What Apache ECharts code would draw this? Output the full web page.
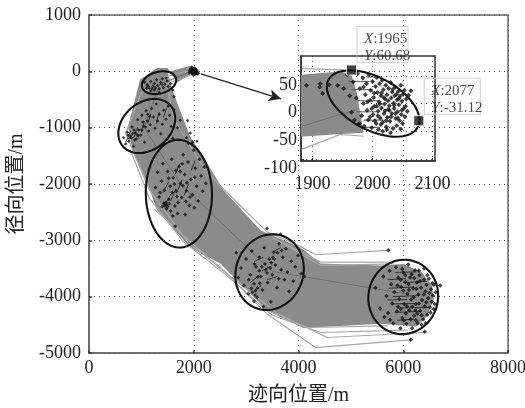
<!DOCTYPE html>
<html><head><meta charset="utf-8">
<script src="https://cdn.jsdelivr.net/npm/echarts@6/dist/echarts.min.js"></script>
<style>html,body{margin:0;padding:0;background:#fff}#c{width:525px;height:408px;filter:blur(0.45px)}</style>
</head><body><div id="c"></div>
<script>
const insetXTicks=[1900,2000,2100];
const insetYTicks=[50,0,-50,-100];
const xTitle='迹向位置/m';
const yTitle='径向位置/m';

const bandEdge=[[1971,110],[1500,-10],[1608,-375],[1933,-1160],[2182,-1518],[2565,-2107],[3273,-2821],[4038,-3125],[4421,-3411],[5569,-3446],[6000,-3420],[6350,-3560],[6550,-3800],[6580,-4050],[6450,-4350],[6250,-4530],[5569,-4482],[4096,-4554],[3407,-4250],[2507,-3411],[1933,-3125],[1301,-2464],[1110,-1982],[823,-1393],[746,-982],[976,-143],[1300,60],[1500,60],[1678,-202],[1933,-53]];
const trackCenter=[[1965,0],[1350,-230],[1050,-1000],[1750,-2000],[3500,-3550],[6050,-3950]];
const trackA=[[1965,20],[1450,-100],[1620,-850],[2250,-1800],[3400,-2850],[4038,-3107],[4325,-3256],[5716,-3178]];
const trackB=[[3500,-2950],[4421,-3387],[5697,-3387]];
const trackC=[[3600,-3000],[4421,-3446],[5825,-3417]];
const trackD=[[1965,-60],[1000,-380],[700,-1100],[1150,-2100],[1900,-3050],[2507,-3476],[3400,-4309],[4325,-4904],[6144,-4767]];
const trackE=[[1250,-2450],[2507,-3500],[3600,-4300],[4549,-4725],[6399,-4636]];
const trackF=[[2600,-3600],[3500,-4330],[4421,-4636],[6080,-4595]];
const trackG=[[3300,-4200],[4166,-4547],[5697,-4517]];
const trackH=[[790,-1400],[1150,-2250],[1800,-3020],[2650,-3640]];

const ellipse1={c:[1337,-202],a:[328,48],b:[0,197]};
const ellipse2={c:[1103,-970],a:[543,130],b:[0,463]};
const ellipse3={c:[1716,-2171],a:[632,-20],b:[0,957]};
const ellipse4={c:[3448,-3565],a:[654,60],b:[0,670]};
const ellipse5={c:[6000,-4005],a:[667,20],b:[0,660]};
const insetEllipse={c:[2001,0],a:[77,-30],b:[0,52]};

const dotsTip=[[1950,40],[1970,60],[1990,20],[2010,50],[2040,-10],[2060,-30],[1985,-30],[2020,-45],[1960,-10],[2005,5],[2035,25],[1935,15],[2050,10],[1995,-55],[2075,-35],[1925,-20]];
const dots1=[[1060,-190],[1110,-240],[1150,-300],[1180,-180],[1220,-265],[1250,-330],[1290,-150],[1310,-250],[1340,-310],[1370,-200],[1400,-130],[1420,-290],[1450,-230],[1490,-170],[1510,-270],[1180,-350],[1250,-215],[1340,-370],[1560,-215],[1600,-330],[1620,-445],[1100,-300],[1130,-270],[1205,-310],[1270,-290],[1395,-240],[1470,-120]];
const dots2=[[660,-1180],[700,-1290],[730,-1080],[760,-1240],[790,-1150],[820,-990],[850,-1330],[880,-1090],[905,-1200],[930,-860],[950,-1040],[985,-1130],[1010,-780],[1040,-970],[1060,-1260],[1090,-700],[1110,-880],[1140,-1060],[1170,-950],[1195,-660],[1230,-810],[1260,-1010],[1285,-580],[1310,-880],[1340,-760],[1370,-1110],[1400,-940],[1430,-690],[1470,-850],[1510,-620],[1540,-780],[1570,-980],[1600,-1190],[1742,-868],[1882,-874],[1933,-1094],[2061,-1243],[1690,-1000],[1860,-1180],[1620,-680],[745,-1130],[770,-1190],[810,-1180],[830,-1110],[860,-1040],[870,-1220],[915,-1120],[940,-1150],[1010,-1040],[1030,-900],[1080,-990],[1160,-800],[1120,-760]];
const dots3=[[1270,-2060],[1310,-1790],[1340,-2230],[1385,-1950],[1410,-1640],[1440,-2110],[1474,-2374],[1500,-1780],[1525,-2270],[1550,-2040],[1580,-1560],[1610,-1890],[1640,-2390],[1646,-2749],[1670,-2130],[1691,-2522],[1720,-1690],[1745,-1990],[1770,-2240],[1800,-1480],[1825,-1830],[1837,-2540],[1860,-2120],[1890,-1610],[1915,-2380],[1945,-1920],[1975,-2190],[2000,-1400],[2030,-1720],[2055,-2040],[2085,-2300],[2110,-1560],[2140,-1860],[2170,-2130],[2200,-1700],[2230,-1990],[1980,-1260],[1900,-1280],[1400,-2400],[1480,-2440],[1360,-2150],[1560,-2480],[1700,-2330],[1630,-2000],[1740,-1780],[1850,-2310],[1520,-1900],[2010,-2420],[1600,-2570],[1430,-2340],[1450,-2380],[1500,-2400],[1530,-2350],[1470,-2330],[1590,-2150],[1660,-1760],[1790,-2030],[1870,-1980],[1930,-2230],[2020,-1880],[1780,-1640],[1680,-2220]];
const dots4=[[2813,-3220],[2850,-3660],[2900,-3490],[2960,-3800],[3000,-3330],[3040,-3950],[3080,-3610],[3110,-3190],[3150,-3770],[3190,-3470],[3210,-4010],[3250,-3300],[3280,-3640],[3310,-3880],[3345,-3130],[3375,-3520],[3400,-2792],[3410,-3750],[3440,-3330],[3470,-4090],[3500,-3610],[3530,-3210],[3560,-3440],[3590,-3840],[3630,-3060],[3655,-2893],[3670,-3520],[3700,-3300],[3730,-3700],[3760,-3150],[3790,-3560],[3820,-3910],[3860,-3370],[3900,-3720],[3940,-3470],[3990,-3270],[4050,-3590],[4110,-3640],[3170,-3970],[3100,-3850],[3360,-3420],[3460,-3490],[3260,-3760],[3150,-4080],[3050,-3700],[3330,-4180],[3540,-3330],[3620,-3680],[3250,-3540],[3400,-3580],[3120,-3920],[3180,-3890],[3220,-3840],[3160,-3420],[3300,-3470],[3480,-3400],[3510,-3300],[3600,-3220],[3680,-3180],[3220,-3650]];
const dots5=[[5470,-3840],[5560,-4210],[5620,-3640],[5680,-3990],[5710,-4290],[5740,-3540],[5770,-3780],[5790,-4120],[5810,-4470],[5830,-3920],[5860,-3480],[5880,-4260],[5905,-3660],[5925,-4040],[5945,-4560],[5960,-3830],[5985,-4380],[6005,-3570],[6020,-4130],[6040,-3740],[6060,-4480],[6080,-3950],[6095,-3430],[6115,-4240],[6130,-3660],[6150,-4050],[6170,-4560],[6190,-3850],[6205,-4340],[6225,-3530],[6240,-4130],[6260,-3750],[6275,-4470],[6290,-3960],[6310,-3620],[6325,-4250],[6340,-3840],[6360,-4060],[6380,-4400],[6395,-3700],[6410,-4170],[6425,-3910],[6445,-3790],[6460,-4320],[6475,-4030],[6490,-3680],[6510,-4190],[6530,-3870],[6545,-4090],[6565,-3980],[6585,-3790],[6600,-4130],[6620,-3920],[6705,-3803],[5716,-3178],[6144,-4767],[6412,-4624],[5640,-4360],[5900,-4180],[6100,-3780],[6000,-3890],[6200,-4010],[6300,-4120],[6400,-3500],[6050,-4300],[5750,-4410],[6240,-4420],[5950,-3700],[6160,-3600],[6350,-4500],[5890,-3800],[5950,-4220],[6010,-4420],[6070,-4170],[6110,-3880],[6170,-4180],[6250,-3860],[6270,-4300],[6320,-3720],[6350,-4330],[6390,-3960],[6440,-4100],[6460,-3620],[6500,-3940],[6520,-4280],[6560,-3760],[6580,-4220],[6230,-4240],[6140,-4400],[6040,-3620],[5980,-3510],[6300,-3540],[6430,-4470],[6210,-3670]];

const streaks2=[[700,-1260],[800,-1050],null,[850,-1180],[930,-990],null,[1000,-1080],[1060,-880],null,[1120,-920],[1180,-760],null,[1280,-930],[1340,-720],null,[1420,-820],[1480,-660]];
const streaks3=[[1420,-2150],[1520,-1960],null,[1560,-2300],[1660,-2080],null,[1650,-1820],[1730,-1640],null,[1820,-2200],[1900,-2000],null,[1950,-1760],[2030,-1580],null,[1700,-2100],[1780,-1920],null,[1480,-2320],[1560,-2180]];
const streaks4=[[3080,-3750],[3250,-3620],null,[3150,-3380],[3330,-3300],null,[3300,-3540],[3500,-3450],null,[3400,-3700],[3600,-3640],null,[3500,-3210],[3660,-3130],null,[3150,-3900],[3290,-3800]];
const streaks5=[[5700,-3700],[6050,-3680],null,[5720,-3850],[6200,-3830],null,[5800,-4000],[6300,-3980],null,[5760,-4130],[6250,-4120],null,[5830,-4280],[6350,-4260],null,[5880,-4420],[6200,-4400],null,[5850,-3570],[6250,-3560],null,[6000,-3750],[6450,-3730],null,[5950,-4200],[6480,-4190],null,[5700,-4060],[6080,-4050]];

const insetBand=[[1881,52],[1946,58],[1965,52],[1974,19],[1985,-53],[1935,-56],[1881,-60]];
const insetTrackTop=[[1882,63],[1951,61]];
const insetTrackBottom=[[1882,-83],[1946,-56],[1985,-59]];
const insetTrackMid=[[1882,-41],[1974,-11]];
const insetStreaks=[[1960,40],[1995,40],null,[1965,25],[2000,25],null,[1975,5],[2010,5],null,[1975,-15],[2005,-15],null,[1985,-30],[2020,-30],null,[1990,48],[2012,48],null,[1985,-43],[2010,-43]];
const insetDots=[[1890,33],[1912,30],[1913,36],[1917,18],[1928,34],[1942,33],[1952,27],[1958,52],[1962,14],[1965,-16],[1968,39],[1970,-30],[1973,10],[1975,54],[1977,-38],[1979,27],[1982,-22],[1984,46],[1985,0],[1986,-41],[1988,16],[1990,36],[1991,-12],[1993,-30],[1994,52],[1996,6],[1997,24],[1999,-44],[2000,40],[2001,-20],[2002,11],[2003,-5],[2005,31],[2006,-36],[2007,47],[2008,20],[2009,-14],[2010,-47],[2011,3],[2012,36],[2013,-26],[2014,14],[2015,-8],[2016,42],[2017,-34],[2018,25],[2019,-18],[2020,-1],[2021,8],[2022,33],[2023,-42],[2024,16],[2025,-25],[2026,-11],[2027,27],[2028,-4],[2029,-32],[2030,38],[2031,10],[2032,-18],[2033,21],[2034,-45],[2035,1],[2036,-9],[2037,14],[2038,30],[2039,-27],[2040,-40],[2041,7],[2042,-15],[2043,22],[2044,-2],[2045,-31],[2046,13],[2047,33],[2048,-20],[2049,4],[2050,-36],[2051,17],[2052,-9],[2053,24],[2054,-24],[2055,-5],[2056,8],[2058,-14],[2060,15],[2030,-53],[2017,-50],[1978,-36],[2064,23],[2047,-46],[2004,-31],[1996,-24],[2012,-1],[1985,30],[2024,-47],[2015,19],[2021,-13],[2026,5],[2031,-24],[2036,-3],[2040,17],[2044,9],[2019,11],[2009,-22],[2003,19],[2034,26],[2028,-12],[2023,-31],[2014,-38],[2038,-18],[2049,-12],[2042,-26],[2007,-5],[1999,-9],[1992,3]];
const insetMarks=[[1965,60.68],[2077,-31.12]];

const serif='"Liberation Serif","Noto Sans CJK SC",serif';
const gridLine={show:true,lineStyle:{color:'#555',type:[1,4],width:1}};
const axisBase={axisLine:{show:true,onZero:false,lineStyle:{color:'#666',width:1.5}},axisTick:{show:true,inside:true,length:3,lineStyle:{color:'#333',width:1.5}},splitLine:gridLine};
const lineS=(data,color,width,xi,z)=>({type:'line',data,xAxisIndex:xi,yAxisIndex:xi,showSymbol:false,symbol:'none',lineStyle:{color,width},z,silent:true,animation:false,connectNulls:false});
const dots=(data,xi,size)=>({type:'scatter',data,xAxisIndex:xi,yAxisIndex:xi,symbol:'diamond',symbolSize:size,itemStyle:{color:'#111'},z:5,silent:true,animation:false});
const poly=(edge,xi)=>({type:'custom',coordinateSystem:'cartesian2d',xAxisIndex:xi,yAxisIndex:xi,data:edge,encode:{x:0,y:1},z:3,silent:true,animation:false,clip:false,
  renderItem:(p,api)=>p.dataIndex===0?{type:'polygon',shape:{points:edge.map(e=>api.coord(e))},style:{fill:'#8b8b8b'}}:null});
const ell=(e,xi)=>({type:'custom',coordinateSystem:'cartesian2d',xAxisIndex:xi,yAxisIndex:xi,data:[e.c],encode:{x:0,y:1},z:6,silent:true,animation:false,clip:false,
  renderItem:(p,api)=>{const C=api.coord(e.c),A=api.coord([e.c[0]+e.a[0],e.c[1]+e.a[1]]),B=api.coord([e.c[0]+e.b[0],e.c[1]+e.b[1]]);const pts=[];for(let i=0;i<=72;i++){const t=i*Math.PI/36;pts.push([C[0]+(A[0]-C[0])*Math.cos(t)+(B[0]-C[0])*Math.sin(t),C[1]+(A[1]-C[1])*Math.cos(t)+(B[1]-C[1])*Math.sin(t)]);}
    return {type:'polyline',shape:{points:pts},style:{stroke:'#111',lineWidth:2.1,fill:'none'}};}});
const tipLabel=(s)=>{const[a,b]=s;return `{i|X}{n|:${a}}\n{i|Y}{n|:${b}}`};
const plain=v=>String(v);
const tipRich={i:{fontFamily:serif,fontStyle:'italic',fontSize:15,color:'#222'},n:{fontFamily:serif,fontSize:15,color:'#222'}};

const chart=echarts.init(document.getElementById('c'),null,{renderer:'canvas'});
chart.setOption({
 animation:false,backgroundColor:'#fff',
 grid:[{left:89,right:17,top:15,bottom:55,show:true,borderColor:'#666',borderWidth:1.5,outerBoundsMode:'none'},
       {left:301,top:56,width:134,height:105,show:true,borderColor:'#333',borderWidth:1.5,outerBoundsMode:'none'}],
 xAxis:[
  Object.assign({},axisBase,{gridIndex:0,type:'value',min:0,max:8000,interval:2000,name:xTitle,nameLocation:'middle',nameGap:33,nameTextStyle:{fontFamily:serif,fontSize:20,color:'#222'},axisLabel:{formatter:plain,fontFamily:serif,fontSize:18,color:'#222',margin:6,hideOverlap:false}}),
  Object.assign({},axisBase,{gridIndex:1,type:'value',min:1881,max:2104,
    axisLine:{show:true,onZero:false,lineStyle:{color:'#333',width:1.5}},
    axisTick:{show:true,inside:true,length:3,customValues:insetXTicks,lineStyle:{color:'#333'}},
    axisLabel:{formatter:plain,customValues:insetXTicks,fontFamily:serif,fontSize:18,color:'#222',margin:14}})
 ],
 yAxis:[
  Object.assign({},axisBase,{gridIndex:0,type:'value',min:-5000,max:1000,interval:1000,name:yTitle,nameLocation:'middle',nameGap:62,nameTextStyle:{fontFamily:serif,fontSize:20,color:'#222'},axisLabel:{formatter:plain,fontFamily:serif,fontSize:18,color:'#222',margin:8}}),
  Object.assign({},axisBase,{gridIndex:1,type:'value',min:-104,max:86,
    axisLine:{show:true,onZero:false,lineStyle:{color:'#333',width:1.5}},
    axisTick:{show:true,inside:true,length:3,customValues:insetYTicks,lineStyle:{color:'#333'}},
    axisLabel:{formatter:plain,customValues:insetYTicks,fontFamily:serif,fontSize:18,color:'#222',margin:4,verticalAlign:'top'}})
 ],
 series:[
  poly(bandEdge,0),
  ...[trackA,trackB,trackC,trackD,trackE,trackF,trackG,trackH].map(t=>lineS(t,'#a8a8a8',1.2,0,3)),
  lineS(trackCenter,'#6f6f6f',1,0,4),
  lineS(streaks2,'#333',1,0,4),lineS(streaks3,'#333',1,0,4),lineS(streaks4,'#333',1,0,4),lineS(streaks5,'#333',1,0,4),
  dots(dotsTip,0,5),dots(dots1,0,3.5),dots(dots2,0,3.5),dots(dots3,0,4),dots(dots4,0,4),dots(dots5,0,4.5),
  ell(ellipse1,0),ell(ellipse2,0),ell(ellipse3,0),ell(ellipse4,0),ell(ellipse5,0),
  {type:'line',data:[],xAxisIndex:0,yAxisIndex:0,silent:true,
   markLine:{silent:true,animation:false,symbol:['none','arrow'],symbolSize:[9,12],label:{show:false},lineStyle:{color:'#222',width:1.3,type:'solid'},
     data:[[{coord:[2137,-44]},{coord:[3664,-488]}]]}},
  poly(insetBand,1),
  lineS(insetTrackTop,'#a8a8a8',1.2,1,3),lineS(insetTrackBottom,'#a8a8a8',1.2,1,3),lineS(insetTrackMid,'#6f6f6f',1,1,4),
  lineS(insetStreaks,'#555',1,1,4),
  dots(insetDots,1,5),
  ell(insetEllipse,1),
  {type:'scatter',xAxisIndex:1,yAxisIndex:1,z:8,silent:true,animation:false,symbol:'rect',symbolSize:10,itemStyle:{color:'#111',borderColor:'#fff',borderWidth:1},
   data:[
    {value:insetMarks[0],label:{show:true,position:[11,-38],formatter:tipLabel(['1965','60.68']),width:44,height:30,padding:[4,0,2,7],borderColor:'#c6c6c6',borderWidth:1,lineHeight:17,rich:tipRich}},
    {value:insetMarks[1],label:{show:true,position:[11,-37],formatter:tipLabel(['2077','-31.12']),width:49,height:30,padding:[4,0,2,7],borderColor:'#c6c6c6',borderWidth:1,lineHeight:17,rich:tipRich}}
   ]}
 ]
});
</script></body></html>
